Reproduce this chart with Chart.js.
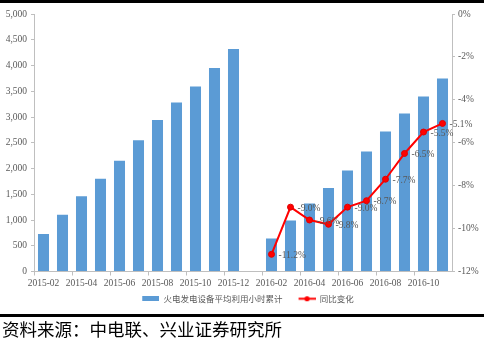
<!DOCTYPE html>
<html lang="zh">
<head>
    <meta charset="UTF-8">
    <title>火电发电设备平均利用小时累计</title>
    <script src="https://cdn.jsdelivr.net/npm/chart.js"></script>
    <style>
        body { margin: 0; background: #fff; width: 484px; height: 341px; position: relative; overflow: hidden; }
        #wrap { position: absolute; left: 0; top: 0; width: 484px; height: 341px; }
        .rule { position: absolute; left: 0; width: 484px; background: #000; }
        #source { position: absolute; left: 2px; top: 317px; font: 17.5px "Noto Sans CJK SC", sans-serif; line-height: 24px; color: #000; white-space: nowrap; }
    </style>
</head>
<body>
    <div id="wrap"><canvas id="hoursChart" width="484" height="341"></canvas></div>
    <div class="rule" style="top:0;height:3px"></div>
    <div class="rule" style="top:314px;height:3px"></div>
    <div id="source">资料来源：中电联、兴业证券研究所</div>

    <script>
        // 月份（2016-01 无数据，留空位）
        const months = ['2015-02','2015-03','2015-04','2015-05','2015-06','2015-07','2015-08','2015-09','2015-10','2015-11','2015-12',
                        '2016-01','2016-02','2016-03','2016-04','2016-05','2016-06','2016-07','2016-08','2016-09','2016-10','2016-11'];
        // 火电发电设备平均利用小时累计（小时）
        const hours = [730, 1100, 1460, 1800, 2150, 2550, 2940, 3280, 3590, 3950, 4320,
                       null, 640, 990, 1320, 1620, 1960, 2330, 2720, 3070, 3400, 3750];
        // 同比变化（%）
        const yoy = [null, null, null, null, null, null, null, null, null, null, null,
                     null, -11.2, -9.0, -9.6, -9.8, -9.0, -8.7, -7.7, -6.5, -5.5, -5.1];

        const seriesNames = ['火电发电设备平均利用小时累计', '同比变化'];
        const leftTicks = { min: 0, max: 5000, step: 500 };
        const rightTicks = { min: -12, max: 0, step: 2 };

        const BLUE = '#5B9BD5';
        const RED = '#FF0000';
        const GREY = '#595959';
        const AXIS = '#BFBFBF';
        const serif = '"Liberation Serif", "Times New Roman", serif';

        // legend icons: 29px wide, glyph in the right 17px so the gap between items stays wide
        function barIcon() {
            const c = document.createElement('canvas');
            c.width = 29; c.height = 5;
            const g = c.getContext('2d');
            g.fillStyle = BLUE;
            g.fillRect(12, 0, 17, 5);
            return c;
        }
        function lineIcon() {
            const c = document.createElement('canvas');
            c.width = 29; c.height = 7;
            const g = c.getContext('2d');
            g.strokeStyle = RED; g.lineWidth = 2;
            g.beginPath(); g.moveTo(12, 3.5); g.lineTo(29, 3.5); g.stroke();
            g.fillStyle = RED;
            g.beginPath(); g.arc(20.5, 3.5, 2.6, 0, Math.PI * 2); g.fill();
            return c;
        }
        const icons = [barIcon(), lineIcon()];

        // value labels beside the line points
        const pointLabels = {
            id: 'pointLabels',
            afterDatasetsDraw(chart) {
                const ctx = chart.ctx;
                const meta = chart.getDatasetMeta(1);
                ctx.save();
                ctx.font = '9.5px ' + serif;
                ctx.fillStyle = GREY;
                ctx.textAlign = 'left';
                ctx.textBaseline = 'middle';
                meta.data.forEach((pt, i) => {
                    if (yoy[i] == null) return;
                    ctx.fillText(yoy[i].toFixed(1) + '%', pt.x + 7, pt.y + 1);
                });
                ctx.restore();
            }
        };

        const tickMark = (c) => (c.index % 2 === 0 ? AXIS : 'rgba(0,0,0,0)');

        new Chart(document.getElementById('hoursChart'), {
            data: {
                labels: months,
                datasets: [{
                    type: 'bar',
                    label: seriesNames[0],
                    data: hours,
                    backgroundColor: BLUE,
                    categoryPercentage: 0.58,
                    barPercentage: 1,
                    yAxisID: 'y',
                    order: 1
                }, {
                    type: 'line',
                    label: seriesNames[1],
                    data: yoy,
                    borderColor: RED,
                    borderWidth: 2,
                    pointRadius: 3,
                    pointBackgroundColor: RED,
                    pointBorderColor: '#E00000',
                    pointBorderWidth: 1,
                    tension: 0,
                    yAxisID: 'y1',
                    order: 0
                }]
            },
            options: {
                responsive: false,
                animation: false,
                devicePixelRatio: 1,
                layout: { padding: { top: 14, left: 0, right: 0, bottom: 28 } },
                scales: {
                    x: {
                        offset: true,
                        grid: { offset: true, drawOnChartArea: false, tickLength: 4, color: tickMark, tickColor: tickMark },
                        border: { color: AXIS },
                        ticks: {
                            autoSkip: false, maxRotation: 0, padding: 2,
                            color: GREY, font: { family: serif, size: 9.5 },
                            callback: (v, i) => (i % 2 === 0 ? months[i] : '')
                        },
                        afterFit: (s) => { s.height = 19; }
                    },
                    y: {
                        position: 'left',
                        min: leftTicks.min, max: leftTicks.max,
                        grid: { drawOnChartArea: false, tickLength: 3, color: AXIS },
                        border: { color: AXIS },
                        ticks: {
                            stepSize: leftTicks.step, padding: 4,
                            color: GREY, font: { family: serif, size: 9.5 },
                            callback: (v) => v.toLocaleString('en-US')
                        },
                        afterFit: (s) => { s.width = 34; }
                    },
                    y1: {
                        position: 'right',
                        min: rightTicks.min, max: rightTicks.max,
                        grid: { drawOnChartArea: false, tickLength: 3, color: AXIS },
                        border: { color: AXIS },
                        ticks: {
                            stepSize: rightTicks.step, padding: 3,
                            color: GREY, font: { family: serif, size: 9.5 },
                            callback: (v) => v + '%'
                        },
                        afterFit: (s) => { s.width = 32; }
                    }
                },
                plugins: {
                    legend: {
                        position: 'bottom',
                        labels: {
                            usePointStyle: true,
                            pointStyleWidth: 29,
                            boxHeight: 7,
                            padding: 4,
                            color: GREY,
                            font: { family: '"Noto Sans CJK SC", sans-serif', size: 8.5 },
                            generateLabels(chart) {
                                const items = Chart.defaults.plugins.legend.labels.generateLabels(chart);
                                items.forEach((it) => { it.pointStyle = icons[it.datasetIndex]; });
                                return items.sort((a, b) => a.datasetIndex - b.datasetIndex);
                            }
                        }
                    },
                    tooltip: { enabled: false }
                }
            },
            plugins: [pointLabels]
        });
    </script>
</body>
</html>
